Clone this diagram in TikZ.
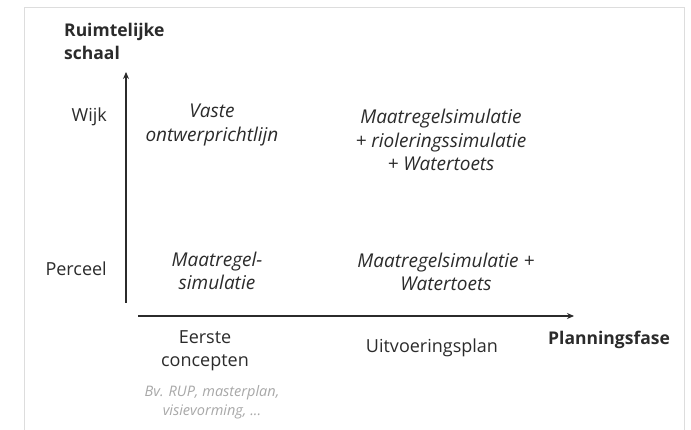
\documentclass[tikz,border=0pt]{standalone}
\usepackage{fontspec}
\setmainfont{Open Sans}
\usetikzlibrary{arrows.meta}
\definecolor{txt}{HTML}{2B2B2B}
\definecolor{faint}{HTML}{A8A8A8}
\definecolor{framec}{HTML}{DDDDDD}
\begin{document}
\begin{tikzpicture}[x=1pt,y=-1pt,
  lbl/.style={text=txt,font=\fontsize{18}{23}\selectfont,align=center,inner sep=0pt},
  cell/.style={lbl,font=\fontsize{19}{23.5}\selectfont\itshape},
  ttl/.style={lbl,font=\fontsize{17.5}{23}\selectfont\bfseries},
  note/.style={text=faint,font=\fontsize{14.5}{19}\selectfont\itshape,align=center,inner sep=0pt},
  axis/.style={draw=txt,line width=1.3pt,-{Stealth[length=7pt,width=6pt]}}]
\useasboundingbox (0,0) rectangle (691,430);
\fill[white] (0,0) rectangle (691,430);
\draw[framec,line width=1pt] (24,432) -- (24,8) -- (684,8) -- (684,432);
% axes
\coordinate (yb) at (126,303);
\coordinate (yt) at (126,72);
\coordinate (xl) at (138,316);
\coordinate (xr) at (574,316);
\draw[axis] (yb) -- (yt);
\draw[axis] (xl) -- (xr);
% titles
\node[ttl,align=left,anchor=west] (ys) at (64,41) {Ruimtelijke\\schaal};
\node[ttl,anchor=west] (xs) at (548,340) {Planningsfase};
% y labels
\node[lbl,anchor=east] (wijk) at (107,117) {Wijk};
\node[lbl,anchor=east] (perc) at (107,269) {Perceel};
% x labels
\node[lbl] (eerste) at (205,351) {Eerste\\concepten};
\node[lbl] (uitv) at (432,348) {Uitvoeringsplan};
\node[note] (bv) at (212,402) {Bv. RUP, masterplan,\\visievorming, ...};
% cells
\node[cell] (c1) at (212,125) {Vaste\\ontwerprichtlijn};
\node[cell] (c2) at (441,140) {Maatregelsimulatie\\+ rioleringssimulatie\\+ Watertoets};
\node[cell] (c3) at (217,271) {Maatregel-\\simulatie};
\node[cell] (c4) at (446,272) {Maatregelsimulatie +\\Watertoets};
\end{tikzpicture}
\end{document}
